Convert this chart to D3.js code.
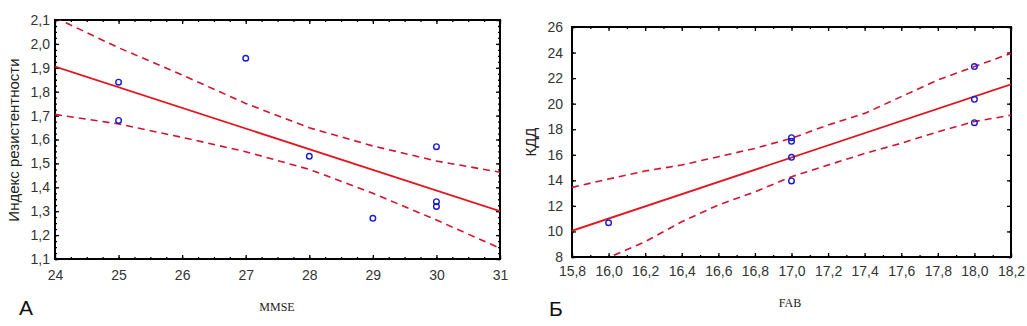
<!DOCTYPE html>
<html><head><meta charset="utf-8">
<script src="https://cdn.jsdelivr.net/npm/d3@7"></script>
<style>body{margin:0;background:#fff}svg{display:block}</style>
</head><body>
<svg id="c" width="1027" height="326"></svg>
<script>
// ---- Panel A data ----
const mmseX = [25, 25, 27, 28, 29, 30, 30, 30];
const riY   = [1.84, 1.68, 1.94, 1.53, 1.27, 1.57, 1.34, 1.32];
const fitAX = [24, 31];
const fitAY = [1.905, 1.30];
const bandAX    = [24, 25, 26, 27, 28, 29, 30, 31];
const bandAUp   = [2.11, 1.984, 1.87, 1.751, 1.649, 1.573, 1.51, 1.463];
const bandALow  = [1.705, 1.665, 1.609, 1.549, 1.475, 1.375, 1.263, 1.145];
const xTicksA = [24, 25, 26, 27, 28, 29, 30, 31];
const yTicksA = [1.1, 1.2, 1.3, 1.4, 1.5, 1.6, 1.7, 1.8, 1.9, 2.0, 2.1];

// ---- Panel B data ----
const fabX = [16, 17, 17, 17, 17, 18, 18, 18];
const kddY = [10.68, 17.34, 17.05, 15.8, 13.95, 22.9, 20.34, 18.51];
const fitBX = [15.8, 18.2];
const fitBY = [10.05, 21.52];
const bandBX   = [15.8, 16.0, 16.2, 16.4, 16.6, 16.8, 17.0, 17.2, 17.4, 17.6, 17.8, 18.0, 18.2];
const bandBUp  = [13.45, 14.1, 14.73, 15.2, 15.85, 16.5, 17.29, 18.33, 19.24, 20.55, 21.85, 22.9, 23.94];
const bandBLow = [6.3, 7.95, 9.2, 10.76, 12.07, 13.1, 14.28, 15.2, 16.1, 16.9, 17.8, 18.6, 19.1];
const xTicksB = [15.8, 16.0, 16.2, 16.4, 16.6, 16.8, 17.0, 17.2, 17.4, 17.6, 17.8, 18.0, 18.2];
const yTicksB = [8, 10, 12, 14, 16, 18, 20, 22, 24, 26];

const svg = d3.select("#c");
svg.append("rect").attr("width",1027).attr("height",326).attr("fill","#fff");

const commaFmt = f => (v => d3.format(f)(v).replace(".", ","));

function panel(o) {
  const g = svg.append("g");
  const x = d3.scaleLinear().domain(o.xDom).range([o.x0, o.x1]);
  const y = d3.scaleLinear().domain(o.yDom).range([o.y1, o.y0]);
  const clipId = "clip" + o.id;
  svg.append("clipPath").attr("id", clipId).append("rect")
    .attr("x", o.x0).attr("y", o.y0).attr("width", o.x1 - o.x0).attr("height", o.y1 - o.y0);

  const tickFont = g => {
    g.selectAll("text").attr("font-family", "Liberation Sans, Arial, sans-serif")
      .attr("font-size", 14).attr("fill", "#333");
    g.select(".domain").remove();
    g.selectAll("line").attr("stroke", "#000").attr("stroke-width", 1.3);
  };
  const minor = (dom, step) => d3.range(dom[0], dom[1] + step / 2, step);
  const xMinor = minor(o.xDom, o.xMinorStep);
  const yMinor = minor(o.yDom, o.yMinorStep);

  g.append("g").attr("transform", `translate(0,${o.y1})`)
    .call(d3.axisBottom(x).tickValues(xMinor).tickSize(-2).tickFormat(""))
    .call(tickFont);
  g.append("g").attr("transform", `translate(0,${o.y0})`)
    .call(d3.axisTop(x).tickValues(xMinor).tickSize(-2).tickFormat(""))
    .call(tickFont);
  g.append("g").attr("transform", `translate(${o.x0},0)`)
    .call(d3.axisLeft(y).tickValues(yMinor).tickSize(-2).tickFormat(""))
    .call(tickFont);
  g.append("g").attr("transform", `translate(${o.x1},0)`)
    .call(d3.axisRight(y).tickValues(yMinor).tickSize(-2).tickFormat(""))
    .call(tickFont);

  g.append("g").attr("transform", `translate(0,${o.y1})`)
    .call(d3.axisBottom(x).tickValues(o.xTicks).tickSize(-4).tickPadding(o.xPad).tickFormat(o.xFmt))
    .call(tickFont);
  g.append("g").attr("transform", `translate(0,${o.y0})`)
    .call(d3.axisTop(x).tickValues(o.xTicks).tickSize(-4).tickFormat(""))
    .call(tickFont);
  g.append("g").attr("transform", `translate(${o.x0},0)`)
    .call(d3.axisLeft(y).tickValues(o.yTicks).tickSize(-4).tickPadding(o.yPad).tickFormat(o.yFmt))
    .call(tickFont);
  g.append("g").attr("transform", `translate(${o.x1},0)`)
    .call(d3.axisRight(y).tickValues(o.yTicks).tickSize(-4).tickFormat(""))
    .call(tickFont);

  g.append("rect").attr("x", o.x0).attr("y", o.y0)
    .attr("width", o.x1 - o.x0).attr("height", o.y1 - o.y0)
    .attr("fill", "none").attr("stroke", "#000").attr("stroke-width", 2);

  const line = d3.line().x(d => x(d[0])).y(d => y(d[1]));
  const pg = g.append("g").attr("clip-path", `url(#${clipId})`);
  pg.append("path").datum(d3.zip(o.bandX, o.bandUp)).attr("d", line)
    .attr("fill", "none").attr("stroke", "#d0132f").attr("stroke-width", 1.6).attr("stroke-dasharray", "7,5");
  pg.append("path").datum(d3.zip(o.bandX, o.bandLow)).attr("d", line)
    .attr("fill", "none").attr("stroke", "#d0132f").attr("stroke-width", 1.6).attr("stroke-dasharray", "7,5");
  pg.append("path").datum(d3.zip(o.fitX, o.fitY)).attr("d", line)
    .attr("fill", "none").attr("stroke", "#e3141c").attr("stroke-width", 1.8);

  g.append("g").selectAll("circle").data(d3.zip(o.px, o.py)).join("circle")
    .attr("cx", d => x(d[0])).attr("cy", d => y(d[1])).attr("r", 2.8)
    .attr("fill", "none").attr("stroke", "#1a1ad0").attr("stroke-width", 1.4);

  g.append("text").attr("x", o.xTitlePos[0]).attr("y", o.xTitlePos[1])
    .attr("text-anchor", "middle").attr("font-family", "Liberation Serif, Times New Roman, serif")
    .attr("font-size", 12).attr("fill", "#222").text(o.xTitle);
  g.append("text").attr("transform", `translate(${o.yTitlePos[0]},${o.yTitlePos[1]}) rotate(-90)`)
    .attr("text-anchor", "middle").attr("dominant-baseline", "middle")
    .attr("font-family", "Liberation Sans, Arial, sans-serif")
    .attr("font-size", 15).attr("fill", "#222").text(o.yTitle);
  g.append("text").attr("x", o.letterPos[0]).attr("y", o.letterPos[1])
    .attr("text-anchor", "middle").attr("font-family", "Liberation Sans, Arial, sans-serif")
    .attr("font-size", 21).attr("fill", "#111").text(o.letter);
}

panel({
  id: "A", x0: 55, x1: 500, y0: 20, y1: 259,
  xDom: [24, 31], yDom: [1.1, 2.1], xMinorStep: 0.25, yMinorStep: 0.025,
  xTicks: xTicksA, yTicks: yTicksA, xFmt: d3.format("d"), yFmt: commaFmt(".1f"),
  xPad: 11, yPad: 5,
  px: mmseX, py: riY, fitX: fitAX, fitY: fitAY,
  bandX: bandAX, bandUp: bandAUp, bandLow: bandALow,
  xTitle: "MMSE", xTitlePos: [277, 311],
  yTitle: "Индекс резистентности", yTitlePos: [15, 140],
  letter: "А", letterPos: [26, 315]
});

panel({
  id: "B", x0: 572, x1: 1011, y0: 27, y1: 257,
  xDom: [15.8, 18.2], yDom: [8, 26], xMinorStep: 0.1, yMinorStep: 2,
  xTicks: xTicksB, yTicks: yTicksB, xFmt: commaFmt(".1f"), yFmt: d3.format("d"),
  xPad: 9, yPad: 9,
  px: fabX, py: kddY, fitX: fitBX, fitY: fitBY,
  bandX: bandBX, bandUp: bandBUp, bandLow: bandBLow,
  xTitle: "FAB", xTitlePos: [790, 307],
  yTitle: "КДД", yTitlePos: [532, 142],
  letter: "Б", letterPos: [556, 316]
});
</script>
</body></html>
